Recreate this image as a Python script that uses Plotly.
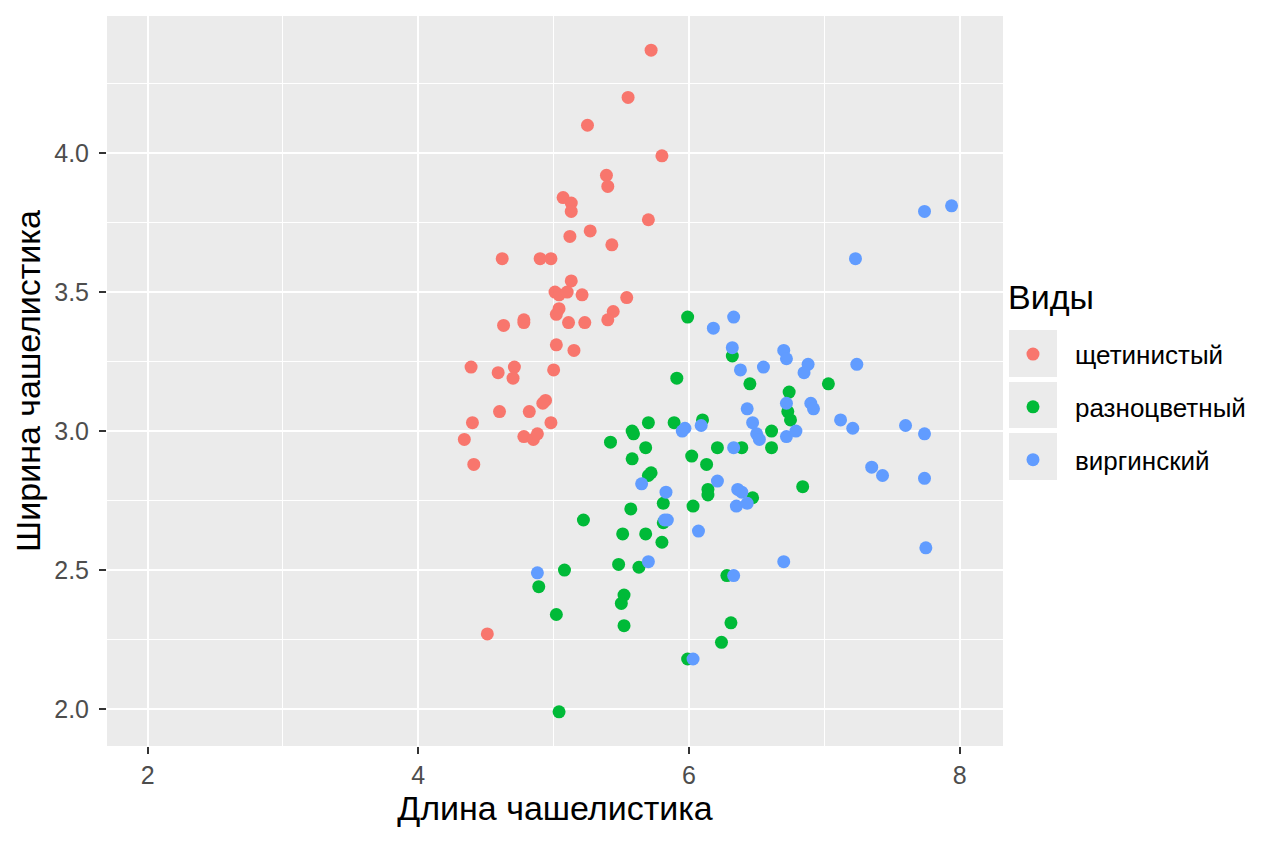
import plotly.graph_objects as go

species = ["щетинистый", "разноцветный", "виргинский"]
colors = ["#F8766D", "#00BA38", "#619CFF"]

setosa_x = [5.72, 5.55, 5.25, 5.80, 5.39, 5.40, 5.07, 5.13, 5.13, 5.70,
            5.27, 5.12, 5.43, 4.62, 4.90, 4.98, 5.13, 5.01, 5.04, 5.10,
            5.21, 5.54, 5.04, 5.44, 5.02, 5.11, 5.23, 5.40, 4.63, 4.78,
            4.78, 5.02, 5.15, 4.39, 4.59, 4.71, 4.70, 5.00, 4.94, 4.92,
            4.60, 4.82, 4.40, 4.98, 4.34, 4.78, 4.85, 4.88, 4.41, 4.51]
setosa_y = [4.37, 4.20, 4.10, 3.99, 3.92, 3.88, 3.84, 3.82, 3.79, 3.76,
            3.72, 3.70, 3.67, 3.62, 3.62, 3.62, 3.54, 3.50, 3.49, 3.50,
            3.49, 3.48, 3.44, 3.43, 3.42, 3.39, 3.39, 3.40, 3.38, 3.40,
            3.39, 3.31, 3.29, 3.23, 3.21, 3.23, 3.19, 3.22, 3.11, 3.10,
            3.07, 3.07, 3.03, 3.03, 2.97, 2.98, 2.97, 2.99, 2.88, 2.27]

versicolor_x = [5.99, 6.32, 5.91, 6.45, 7.03, 6.74, 6.73, 6.75, 6.10, 5.89,
                5.70, 6.61, 5.42, 5.58, 5.59, 5.68, 5.58, 6.02, 6.13, 6.21,
                6.39, 6.61, 5.70, 5.72, 6.14, 6.14, 6.47, 6.84, 5.81, 6.03,
                5.57, 5.22, 5.81, 5.51, 5.68, 5.80, 5.48, 5.63, 5.08, 4.89,
                6.28, 5.52, 5.50, 5.02, 5.52, 6.31, 6.24, 5.99, 5.04]
versicolor_y = [3.41, 3.27, 3.19, 3.17, 3.17, 3.14, 3.07, 3.04, 3.04, 3.03,
                3.03, 3.00, 2.96, 3.00, 2.99, 2.94, 2.90, 2.91, 2.88, 2.94,
                2.94, 2.94, 2.84, 2.85, 2.79, 2.77, 2.76, 2.80, 2.74, 2.73,
                2.72, 2.68, 2.67, 2.63, 2.63, 2.60, 2.52, 2.51, 2.50, 2.44,
                2.48, 2.41, 2.38, 2.34, 2.30, 2.31, 2.24, 2.18, 1.99]

virginica_x = [7.74, 7.94, 7.23, 6.33, 6.18, 6.32, 6.70, 6.72, 6.88, 6.85,
               7.24, 6.38, 6.55, 6.72, 6.90, 6.92, 6.43, 6.47, 7.12, 7.21,
               7.60, 7.74, 5.95, 5.97, 6.09, 6.50, 6.52, 6.72, 6.79, 6.33,
               7.35, 7.43, 7.74, 6.21, 5.83, 6.36, 6.39, 6.35, 6.43, 5.82,
               5.84, 6.07, 5.65, 5.70, 6.70, 7.75, 6.33, 4.88, 6.03]
virginica_y = [3.79, 3.81, 3.62, 3.41, 3.37, 3.30, 3.29, 3.26, 3.24, 3.21,
               3.24, 3.22, 3.23, 3.10, 3.10, 3.08, 3.08, 3.03, 3.04, 3.01,
               3.02, 2.99, 3.00, 3.01, 3.02, 2.99, 2.97, 2.98, 3.00, 2.94,
               2.87, 2.84, 2.83, 2.82, 2.78, 2.79, 2.78, 2.73, 2.74, 2.68,
               2.68, 2.64, 2.81, 2.53, 2.53, 2.58, 2.48, 2.49, 2.18]

x_title = "Длина чашелистика"
y_title = "Ширина чашелистика"
legend_title = "Виды"

xs = [setosa_x, versicolor_x, virginica_x]
ys = [setosa_y, versicolor_y, virginica_y]

font_family = "Liberation Sans, Arial, sans-serif"

fig = go.Figure()
for name, col, x, y in zip(species, colors, xs, ys):
    fig.add_trace(go.Scatter(
        x=x, y=y, mode="markers", name=name, legendgroup=name,
        marker=dict(color=col, size=13, line=dict(width=0)),
    ))

axis_common = dict(
    showgrid=True, gridcolor="white", gridwidth=2,
    zeroline=False, showline=False,
    ticks="outside", ticklen=7, tickwidth=2, tickcolor="#333333",
    tickfont=dict(size=25, color="#4D4D4D", family=font_family),
)

fig.update_layout(
    width=1256, height=835,
    margin=dict(l=99, r=261, t=8, b=97),
    paper_bgcolor="white", plot_bgcolor="#EBEBEB",
    font=dict(family=font_family, color="black"),
    xaxis=dict(range=[1.70, 8.32], dtick=2, tick0=0, ticklabelstandoff=0,
               minor=dict(dtick=1, tick0=0, showgrid=True, gridcolor="white", gridwidth=1, ticks=""),
               title=dict(text=x_title, font=dict(size=34), standoff=8),
               **axis_common),
    yaxis=dict(range=[1.867, 4.493], dtick=0.5, tick0=2, tickformat=".1f", ticklabelstandoff=5,
               minor=dict(dtick=0.25, tick0=2, showgrid=True, gridcolor="white", gridwidth=1, ticks=""),
               title=dict(text=y_title, font=dict(size=34), standoff=3),
               **axis_common),
    legend=dict(
        x=0.9866, xanchor="left", y=0.569, yanchor="top",
        font=dict(size=26, color="black"),
        tracegroupgap=16, itemwidth=74,
        bgcolor="rgba(0,0,0,0)",
    ),
)

# legend title (ggplot style, placed above the key column)
fig.add_annotation(text=legend_title, xref="paper", yref="paper",
                   x=1.0033, y=0.615, xanchor="left", yanchor="middle",
                   showarrow=False, font=dict(size=34, color="black"))

# grey legend key backgrounds (ggplot style)
for y0, y1 in [(0.5055, 0.5699), (0.4356, 0.4986), (0.3644, 0.4288)]:
    fig.add_shape(type="rect", xref="paper", yref="paper",
                  x0=1.0067, x1=1.0603, y0=y0, y1=y1,
                  fillcolor="#EBEBEB", line=dict(width=0), layer="below")

fig.write_html("out.html")
